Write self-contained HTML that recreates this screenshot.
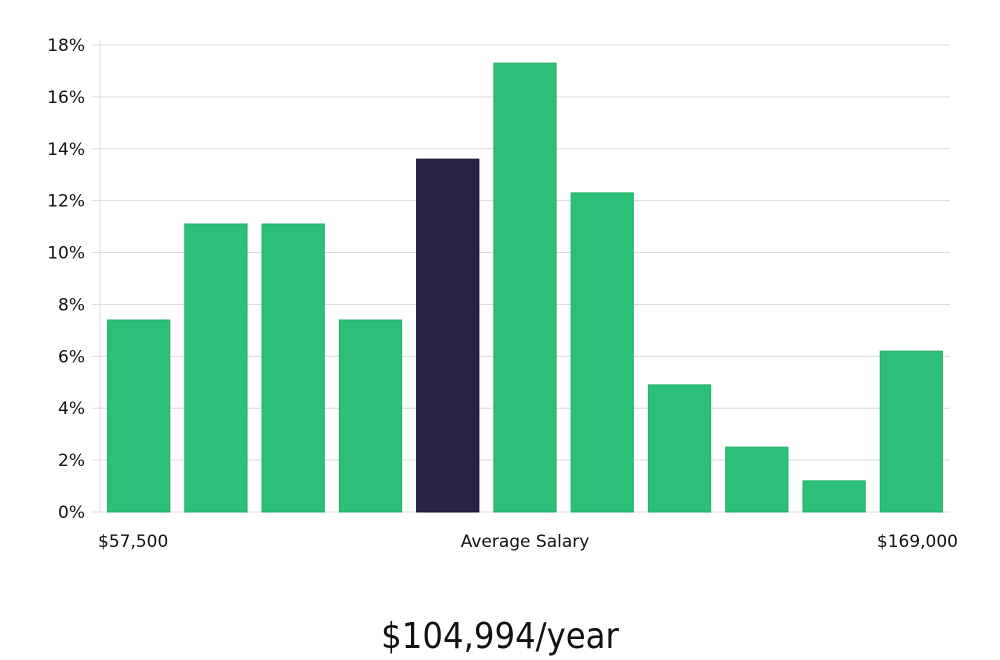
<!DOCTYPE html>
<html><head><meta charset="utf-8">
<style>
body{margin:0;background:#fff;font-family:"DejaVu Sans","Liberation Sans",sans-serif;}
svg{display:block}
</style></head>
<body>
<svg width="1000" height="660">
<g id="grid"></g>
<g id="bars"></g>
<g id="labels"></g>
</svg>
<script>
const categories=["b1","b2","b3","b4","b5","b6","b7","b8","b9","b10","b11"];
const values=[7.4,11.1,11.1,7.4,13.6,17.3,12.3,4.9,2.5,1.2,6.2];
const highlightIndex=4;
const yTicks=[0,2,4,6,8,10,12,14,16,18];
const xLabels=["$57,500","Average Salary","$169,000"];
const title="$104,994/year";
const ns="http://www.w3.org/2000/svg";
const x0=100,x1=950,y0=512,y18=45;
const y=v=>y0-(v/18)*(y0-y18);
const slot=(x1-x0)/categories.length;
const g=document.getElementById('grid'),b=document.getElementById('bars'),l=document.getElementById('labels');
function mk(t,a,p){const e=document.createElementNS(ns,t);for(const k in a)e.setAttribute(k,a[k]);p.appendChild(e);return e;}
yTicks.forEach(t=>{
  const ln=mk('line',{x1:92,x2:x1,y1:y(t),y2:y(t),stroke:'#dcdcdc','stroke-width':1},g);
  
  
  const tx=mk('text',{x:85,y:y(t)+6,'text-anchor':'end','font-size':17,fill:'#111'},l);
  tx.textContent=t+'%';
  
  
});
const ax=mk('line',{x1:x0,x2:x0,y1:40,y2:y0,stroke:'#dcdcdc'},g);


values.forEach((v,i)=>{
  const hi=i===highlightIndex;
  const r=mk('rect',{x:x0+i*slot+7.5,y:y(v),width:slot-15,height:y0-y(v),fill:hi?'#282446':'#2bbf78',stroke:hi?'#16132e':'#22b06b','stroke-width':1},b);
  
  
});
const pos=[[98,'start'],[525,'middle'],[958,'end']];
xLabels.forEach((s,i)=>{
  const t=mk('text',{x:pos[i][0],y:547,'text-anchor':pos[i][1],'font-size':17,fill:'#111'},l);
  t.textContent=s;
  
  
});
const tt=mk('text',{x:500,y:648,'text-anchor':'middle','font-size':36,fill:'#111','font-family':'"DejaVu Sans Condensed","Liberation Sans Narrow",sans-serif'},l);
tt.textContent=title;


</script>
</body></html>
